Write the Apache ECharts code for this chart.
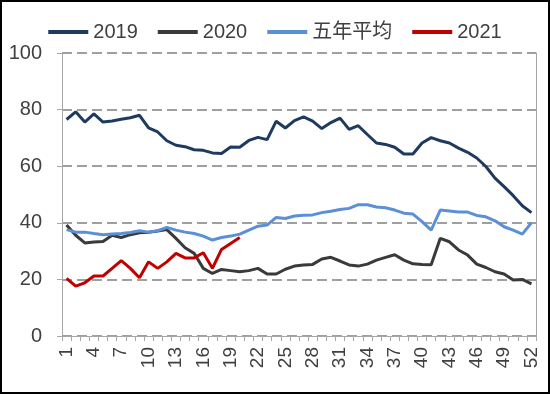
<!DOCTYPE html>
<html>
<head>
<meta charset="utf-8">
<script src="https://cdn.jsdelivr.net/npm/echarts@6/dist/echarts.min.js"></script>
<style>
html,body{margin:0;padding:0;background:#fff;}
#c{width:550px;height:394px;}
</style>
</head>
<body>
<div id="c"></div>
<script>
var weeks = ['1','2','3','4','5','6','7','8','9','10','11','12','13','14','15','16','17','18','19','20','21','22','23','24','25','26','27','28','29','30','31','32','33','34','35','36','37','38','39','40','41','42','43','44','45','46','47','48','49','50','51','52'];
var yTicks = [0, 20, 40, 60, 80, 100];
var names = ['2019', '2020', '五年平均', '2021'];
var d2019 = [76.5,79.2,75.6,78.5,75.6,76.0,76.6,77.1,78.0,73.5,72.1,69.0,67.4,66.9,65.8,65.6,64.7,64.5,66.8,66.7,69.1,70.2,69.4,75.9,73.5,76.1,77.4,75.9,73.3,75.4,77.0,73.0,74.3,71.2,68.2,67.7,66.7,64.3,64.3,68.2,70.1,69.0,68.2,66.4,64.9,62.9,59.9,55.8,52.8,49.6,46.0,43.6];
var d2020 = [39.2,35.6,32.9,33.2,33.4,35.6,34.8,35.8,36.5,36.7,37.1,37.6,34.5,31.2,29.2,23.9,22.1,23.5,23.1,22.7,23.1,23.9,21.9,21.9,23.6,24.7,25.1,25.3,27.2,27.8,26.5,25.1,24.7,25.4,26.8,27.8,28.7,26.8,25.5,25.3,25.2,34.5,33.3,30.4,28.6,25.4,24.2,22.7,21.9,19.8,20.0,18.4];
var dAvg = [37.6,36.7,36.7,36.2,35.8,36.0,36.2,36.6,37.2,36.7,37.2,38.4,37.4,36.7,36.2,35.3,33.9,34.8,35.3,36.0,37.4,38.8,39.2,41.9,41.5,42.4,42.7,42.8,43.6,44.1,44.7,45.1,46.4,46.4,45.6,45.3,44.5,43.4,43.1,40.4,37.4,44.5,44.2,43.8,43.8,42.6,42.1,40.7,38.6,37.4,36.0,40.0];
var d2021 = [20.4,17.6,18.8,21.2,21.2,23.9,26.6,23.9,20.6,26.2,23.9,26.2,29.2,27.6,27.6,29.4,23.9,30.6,32.7,34.8];
var colors = ['#1f3a5f', '#3a3a3a', '#5b8fd6', '#c00000'];

var chart = echarts.init(document.getElementById('c'), null, {renderer: 'canvas'});
var txt = '#404040';
var font = '"Liberation Sans", Arial, "Noto Sans CJK SC", sans-serif';
function mkSeries(name, data, color) {
  return {
    name: name, type: 'line', data: data, showSymbol: false, symbol: 'none',
    lineStyle: {color: color, width: 3}, itemStyle: {color: color}, animation: false
  };
}
chart.setOption({
  animation: false,
  color: colors,
  graphic: [{
    type: 'rect', shape: {x: 1, y: 1, width: 548, height: 392},
    style: {fill: null, stroke: '#000', lineWidth: 2}, silent: true, z: 100
  }],
  legend: {
    data: names, top: 17, left: 'center', itemGap: 20, itemWidth: 40, itemHeight: 4,
    icon: 'rect',
    textStyle: {color: txt, fontSize: 20, fontFamily: font}
  },
  grid: {left: 62, right: 14, top: 53, bottom: 58, containLabel: false},
  xAxis: {
    type: 'category', data: weeks, boundaryGap: true,
    axisLine: {lineStyle: {color: '#a6a6a6', width: 1}},
    axisTick: {show: true, interval: 0, length: 5, lineStyle: {color: '#a6a6a6'}},
    axisLabel: {interval: 2, rotate: 90, fontSize: 19, color: txt, fontFamily: font, margin: 11},
    splitLine: {show: false}
  },
  yAxis: [{
    type: 'value', min: yTicks[0], max: yTicks[yTicks.length - 1], interval: 20,
    axisLine: {show: true, lineStyle: {color: '#a6a6a6', width: 1}},
    axisTick: {show: true, length: 5, lineStyle: {color: '#a6a6a6'}},
    axisLabel: {fontSize: 20, color: txt, fontFamily: font, margin: 20},
    splitLine: {show: true, lineStyle: {color: '#808080', width: 1.5, type: [10, 5]}}
  }, {
    type: 'value', min: yTicks[0], max: yTicks[yTicks.length - 1], interval: 20, position: 'right',
    axisLine: {show: true, lineStyle: {color: '#a6a6a6', width: 1}},
    axisTick: {show: false}, axisLabel: {show: false}, splitLine: {show: false}
  }],
  series: [
    mkSeries(names[0], d2019, colors[0]),
    mkSeries(names[1], d2020, colors[1]),
    mkSeries(names[2], dAvg, colors[2]),
    mkSeries(names[3], d2021, colors[3])
  ]
});
</script>
</body>
</html>
